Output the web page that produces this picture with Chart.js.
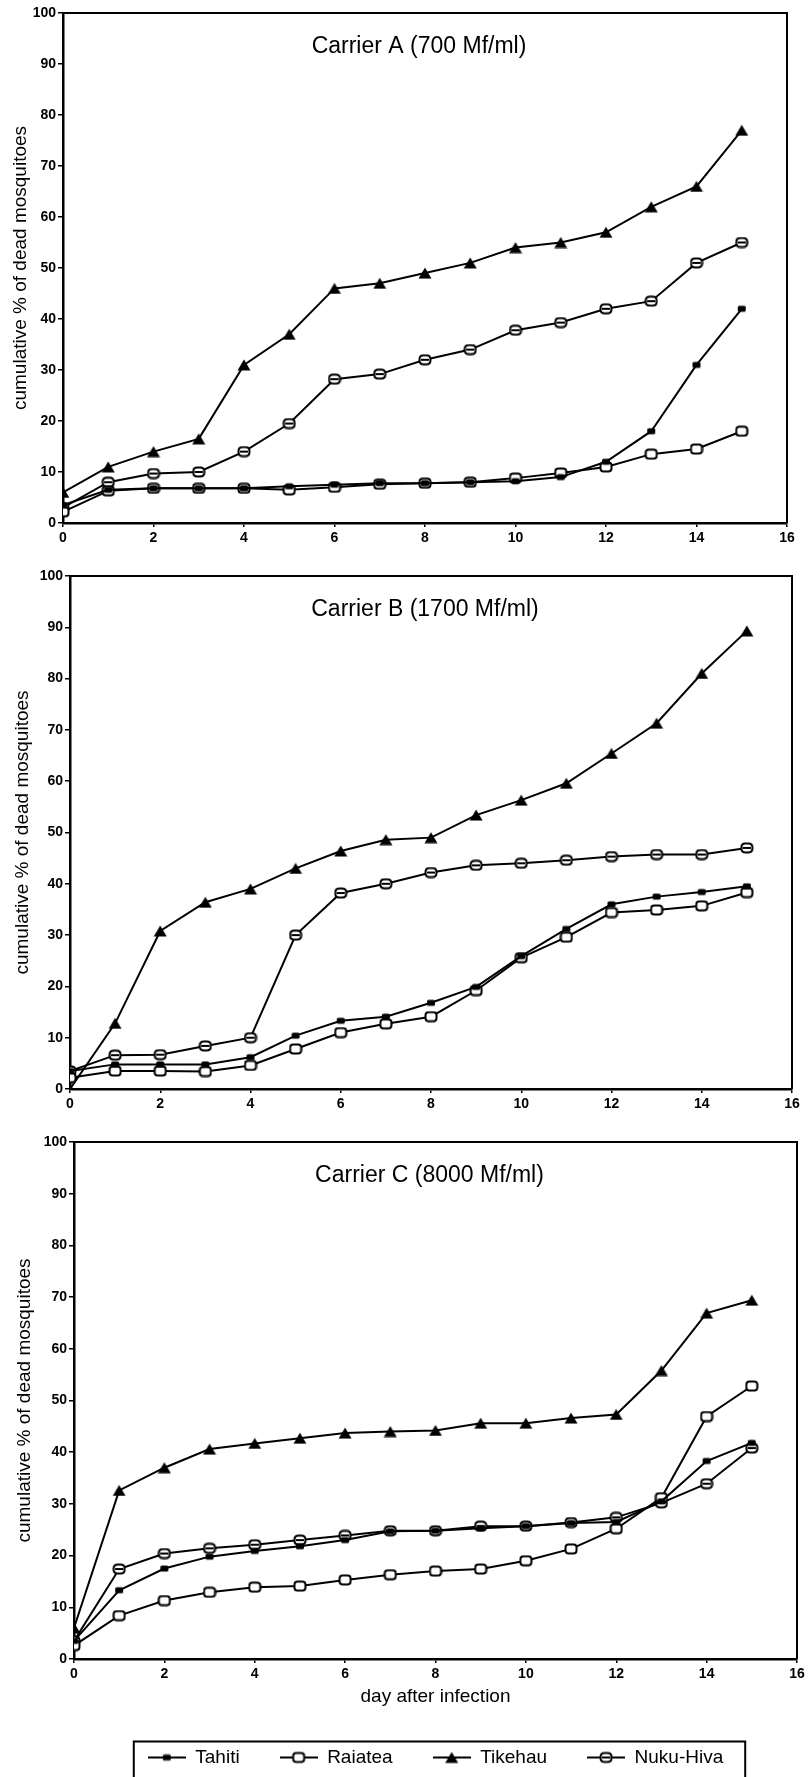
<!DOCTYPE html>
<html><head><meta charset="utf-8">
<script src="https://cdn.jsdelivr.net/npm/chart.js@4/dist/chart.umd.min.js"></script>
<style>
html,body{margin:0;padding:0;background:#fff;width:809px;height:1777px;overflow:hidden;}
canvas{position:absolute;left:0;}
</style></head><body>
<canvas id="cA" width="809" height="560" style="top:0px"></canvas>
<canvas id="cB" width="809" height="560" style="top:560px"></canvas>
<canvas id="cC" width="809" height="657" style="top:1120px"></canvas>
<script>
// ---- data ----
const days = [0,1,2,3,4,5,6,7,8,9,10,11,12,13,14,15];
const seriesNames = ['Tahiti','Raiatea','Tikehau','Nuku-Hiva'];
const xTicksMax = 16;
const yTicksMax = 100;

const titleA = 'Carrier A (700 Mf/ml)';
const tahitiA  = [3.5, 6.5, 6.8, 6.8, 6.8, 7.2, 7.5, 7.8, 7.8, 8, 8.2, 9, 12, 18, 31, 42];
const raiateaA = [2.2, 6.3, 6.8, 6.8, 6.8, 6.5, 7, 7.6, 7.8, 8, 8.8, 9.8, 11, 13.5, 14.5, 18];
const tikehauA = [6, 11, 14, 16.5, 31, 37, 46, 47, 49, 51, 54, 55, 57, 62, 66, 77];
const nukuA    = [3, 8, 9.7, 10, 14, 19.5, 28.2, 29.2, 32, 34, 37.8, 39.3, 42, 43.5, 51, 55];

const titleB = 'Carrier B (1700 Mf/ml)';
const tahitiB  = [3.5, 4.8, 4.8, 4.8, 6.2, 10.4, 13.3, 14.1, 16.8, 19.9, 25.9, 31.2, 36, 37.5, 38.4, 39.5];
const raiateaB = [2.2, 3.5, 3.5, 3.4, 4.6, 7.8, 11, 12.7, 14.1, 19.2, 25.6, 29.6, 34.4, 34.9, 35.7, 38.3];
const tikehauB = [0, 12.8, 30.8, 36.4, 39, 43, 46.4, 48.6, 49, 53.4, 56.3, 59.6, 65.4, 71.3, 81, 89.3];
const nukuB    = [3.5, 6.6, 6.7, 8.4, 10, 30, 38.2, 40, 42.2, 43.6, 44, 44.6, 45.3, 45.7, 45.7, 47];

const titleC = 'Carrier C (8000 Mf/ml)';
const tahitiC  = [3.5, 13.3, 17.5, 19.8, 20.9, 21.8, 23, 24.7, 24.8, 25.3, 25.7, 26.3, 26.5, 30.5, 38.3, 41.8];
const raiateaC = [2.6, 8.4, 11.3, 12.9, 13.9, 14.1, 15.3, 16.3, 17, 17.4, 19, 21.3, 25.2, 31.2, 46.9, 52.8];
const tikehauC = [6, 32.6, 37, 40.6, 41.7, 42.7, 43.7, 44, 44.2, 45.6, 45.6, 46.6, 47.3, 55.8, 66.9, 69.4];
const nukuC    = [3.5, 17.4, 20.4, 21.4, 22.1, 23, 23.9, 24.8, 24.8, 25.7, 25.7, 26.4, 27.4, 30.2, 33.9, 40.8];

const yTitle = 'cumulative % of dead mosquitoes';
const xTitle = 'day after infection';

// ---- marker glyphs ----
function makeCanvas(w, h, draw){ const c = document.createElement('canvas'); c.width = w; c.height = h; draw(c.getContext('2d'), w, h); return c; }
function rr(g, x, y, w, h, r){ g.beginPath(); g.moveTo(x+r,y); g.lineTo(x+w-r,y); g.quadraticCurveTo(x+w,y,x+w,y+r); g.lineTo(x+w,y+h-r); g.quadraticCurveTo(x+w,y+h,x+w-r,y+h); g.lineTo(x+r,y+h); g.quadraticCurveTo(x,y+h,x,y+h-r); g.lineTo(x,y+r); g.quadraticCurveTo(x,y,x+r,y); g.closePath(); }
const mkTahiti = makeCanvas(10, 9, g => { g.fillStyle = '#000'; rr(g, 1, 1.5, 8, 6, 1.5); g.fill(); });
const mkRaiatea = makeCanvas(14, 12, g => { g.fillStyle = '#fff'; g.strokeStyle = '#000'; g.lineWidth = 2; rr(g, 1.5, 1.5, 11, 9, 3); g.fill(); g.stroke(); });
const mkTikehau = makeCanvas(14, 12, g => { g.fillStyle = '#000'; g.beginPath(); g.moveTo(7, 0.5); g.lineTo(13.5, 11.5); g.lineTo(0.5, 11.5); g.closePath(); g.fill(); });
const mkNuku = makeCanvas(14, 12, g => { g.fillStyle = '#fff'; g.strokeStyle = '#000'; g.lineWidth = 2; rr(g, 1.5, 1.5, 11, 9, 4); g.fill(); g.stroke(); g.fillStyle = '#000'; g.fillRect(3, 5, 8, 2); });
const markers = [mkTahiti, mkRaiatea, mkTikehau, mkNuku];
const legendIcons = markers.map(m => makeCanvas(38, 14, g => { g.strokeStyle = '#000'; g.lineWidth = 2; g.beginPath(); g.moveTo(0, 7); g.lineTo(38, 7); g.stroke(); g.drawImage(m, 19 - m.width/2, 7 - m.height/2); }));

Chart.defaults.color = '#000';
Chart.defaults.font.family = "'Liberation Sans', Arial, sans-serif";

const tickFont = {family: "'Liberation Sans Narrow','Liberation Sans',Arial,sans-serif", size: 14, weight: 'bold'};

const framePlugin = {
  id: 'frameTitle',
  afterDraw(chart, args, opts) {
    const {ctx, chartArea: a} = chart;
    ctx.save();
    ctx.strokeStyle = '#000'; ctx.lineWidth = 2;
    ctx.beginPath(); ctx.moveTo(a.left, a.top); ctx.lineTo(a.right, a.top); ctx.lineTo(a.right, a.bottom); ctx.stroke();
    ctx.fillStyle = '#000';
    ctx.font = "23px 'Liberation Sans', Arial, sans-serif";
    ctx.textAlign = 'center'; ctx.textBaseline = 'middle';
    ctx.fillText(opts.text, (a.left + a.right)/2 - 6, a.top + 34);
    if (opts.legendBox && chart.legend && chart.legend.legendHitBoxes && chart.legend.legendHitBoxes.length) {
      const hb = chart.legend.legendHitBoxes;
      const first = hb[0], last = hb[hb.length-1];
      const l = first.left - 14, r = last.left + last.width + 22;
      const t = first.top + first.height/2 - 16;
      ctx.lineWidth = 2;
      ctx.beginPath(); ctx.moveTo(l, chart.height + 5); ctx.lineTo(l, t); ctx.lineTo(r, t); ctx.lineTo(r, chart.height + 5); ctx.stroke();
    }
    ctx.restore();
  }
};

function makeChart(id, title, vals, geom) {
  const datasets = vals.map((v, i) => ({
    label: seriesNames[i],
    data: days.map((d, j) => ({x: d, y: v[j]})),
    borderColor: '#000', backgroundColor: '#000', borderWidth: 2,
    pointStyle: markers[i], pointRadius: 5, tension: 0, fill: false
  }));
  return new Chart(document.getElementById(id), {
    type: 'line',
    data: {datasets},
    plugins: [framePlugin],
    options: {
      responsive: false, animation: false, devicePixelRatio: 1,
      layout: {autoPadding: false, padding: {top: geom.top, right: geom.right, left: 0, bottom: 0}},
      plugins: {
        legend: geom.legend ? {
          display: true, position: 'bottom', fullSize: false,
          labels: {
            usePointStyle: true, pointStyleWidth: 38, padding: 40,
            font: {size: 19, family: "'Liberation Sans', Arial, sans-serif"}, color: '#000',
            generateLabels: (chart) => chart.data.datasets.map((ds, i) => ({
              text: ds.label, pointStyle: legendIcons[i], fillStyle: '#000', strokeStyle: '#000',
              lineWidth: 0, hidden: false, datasetIndex: i, fontColor: '#000'
            }))
          }
        } : {display: false},
        title: {display: false},
        tooltip: {enabled: false},
        frameTitle: {text: title, legendBox: !!geom.legend}
      },
      scales: {
        x: {
          type: 'linear', min: 0, max: xTicksMax,
          ticks: {stepSize: 2, autoSkip: false, maxRotation: 0, font: tickFont, color: '#000', padding: 3},
          grid: {drawOnChartArea: false, drawTicks: true, tickLength: 4, color: '#000', lineWidth: 1.5},
          border: {display: true, color: '#000', width: 2.5},
          title: geom.xTitle ? {display: true, text: xTitle, font: {size: 19}, color: '#000', padding: {top: 0, bottom: 0}} : {display: false},
          afterFit: (s) => { s.height = geom.xh; }
        },
        y: {
          type: 'linear', min: 0, max: yTicksMax,
          ticks: {stepSize: 10, autoSkip: false, font: tickFont, color: '#000', padding: 2},
          grid: {drawOnChartArea: false, drawTicks: true, tickLength: 5, color: '#000', lineWidth: 1.5},
          border: {display: true, color: '#000', width: 2.5},
          title: {display: true, text: yTitle, font: {size: 19}, color: '#000', padding: {top: geom.ytp, bottom: 0}},
          afterFit: (s) => { s.width = geom.yw; }
        }
      }
    }
  });
}

makeChart('cA', titleA, [tahitiA, raiateaA, tikehauA, nukuA], {top: 13, right: 22, yw: 63, xh: 37, ytp: 9});
makeChart('cB', titleB, [tahitiB, raiateaB, tikehauB, nukuB], {top: 16, right: 17, yw: 70, xh: 31, ytp: 11});
makeChart('cC', titleC, [tahitiC, raiateaC, tikehauC, nukuC], {top: 22, right: 12, yw: 74, xh: 49, ytp: 13, legend: true, xTitle: true});
</script>
</body></html>
